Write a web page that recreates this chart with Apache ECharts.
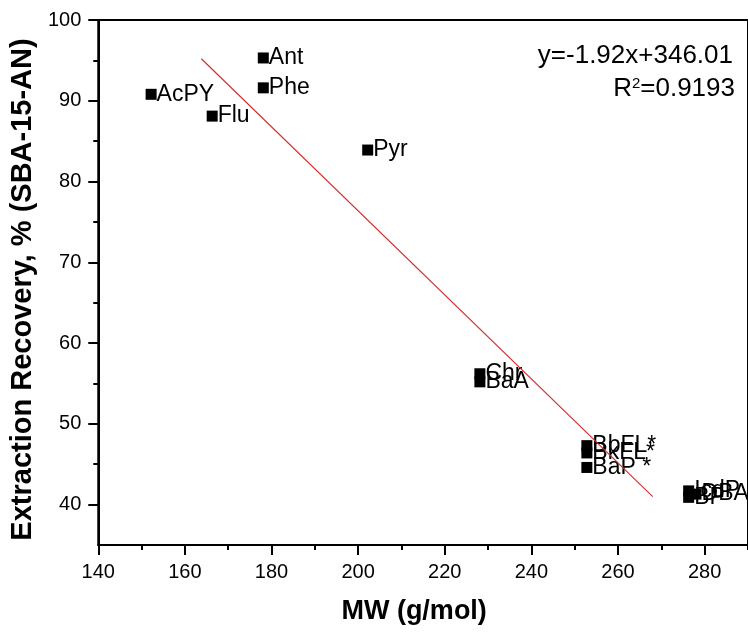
<!DOCTYPE html>
<html>
<head>
<meta charset="utf-8">
<script src="https://cdn.jsdelivr.net/npm/echarts@6/dist/echarts.min.js"></script>
<style>html,body{margin:0;padding:0;background:#fff;}#main{width:748px;height:632px;}</style>
</head>
<body>
<div id="main"></div>
<script>
// Data
const compounds = ['AcPY','Flu','Ant','Phe','Pyr','Chr','BaA','BbFL*','BkFL*','BaP *','IcdP','DBA','BP'];
const mw        = [152.2, 166.3, 178.1, 178.1, 202.2, 228.1, 228.1, 252.8, 252.8, 252.8, 276.3, 278.0, 276.3];
const recovery  = [90.8, 88.1, 95.3, 91.6, 83.9, 56.2, 55.2, 47.3, 46.4, 44.6, 41.7, 41.3, 40.9];
// Fit line end points as drawn
const fitX = [163.8, 268.0];
const fitY = [95.2, 41.0];
// Ticks
const xTicks = [140,160,180,200,220,240,260,280];
const xMinorTicks = [150,170,190,210,230,250,270,290];
const yTicks = [40,50,60,70,80,90,100];
const yMinorTicks = [45,55,65,75,85,95];
const eqText = 'y=-1.92x+346.01';
const r2Text = '0.9193';

const FONT = '"Liberation Sans", Arial, sans-serif';
const chart = echarts.init(document.getElementById('main'), null, {renderer:'canvas'});

const pts = compounds.map((n,i)=>({name:n, value:[mw[i], recovery[i]]}));
const fit = fitX.map((x,i)=>[x, fitY[i]]);

const common = {min:140, max:290};
const yCommon = {min:35, max:100};

chart.setOption({
  animation:false,
  backgroundColor:'#fff',
  grid:{left:98, top:20, right:-3, bottom:87, show:true, borderColor:'#000', borderWidth:2, backgroundColor:'transparent'},
  xAxis:[
    Object.assign({type:'value', position:'bottom', name:'MW (g/mol)', nameLocation:'middle', nameGap:53,
      nameTextStyle:{fontFamily:FONT, fontSize:27, fontWeight:'bold', color:'#000', padding:[0,18,0,0]},
      axisLine:{show:true, lineStyle:{color:'#000', width:2}},
      axisTick:{show:true, inside:false, length:10, lineStyle:{color:'#000', width:2}, customValues:xTicks},
      axisLabel:{show:true, margin:17, fontFamily:FONT, fontSize:20, color:'#000', customValues:xTicks},
      splitLine:{show:false}}, common),
    Object.assign({type:'value', position:'bottom', gridIndex:0,
      axisLine:{show:false},
      axisTick:{show:true, inside:false, length:5, lineStyle:{color:'#000', width:2}, customValues:xMinorTicks},
      axisLabel:{show:false}, splitLine:{show:false}}, common)
  ],
  yAxis:[
    Object.assign({type:'value', position:'left', name:'Extraction Recovery, % (SBA-15-AN)', nameLocation:'middle', nameGap:59,
      nameTextStyle:{fontFamily:FONT, fontSize:29, fontWeight:'bold', color:'#000', padding:[0,14,0,0]},
      axisLine:{show:true, lineStyle:{color:'#000', width:2}},
      axisTick:{show:true, inside:false, length:10, lineStyle:{color:'#000', width:2}, customValues:yTicks},
      axisLabel:{show:true, margin:17, fontFamily:FONT, fontSize:20, color:'#000', customValues:yTicks},
      splitLine:{show:false}}, yCommon),
    Object.assign({type:'value', position:'left', gridIndex:0,
      axisLine:{show:false},
      axisTick:{show:true, inside:false, length:5, lineStyle:{color:'#000', width:2}, customValues:yMinorTicks},
      axisLabel:{show:false}, splitLine:{show:false}}, yCommon)
  ],
  series:[
    {type:'line', data:fit, symbol:'none', lineStyle:{color:'#d42a2a', width:1.1}, xAxisIndex:0, yAxisIndex:0, z:3, silent:true},
    {type:'scatter', data:pts, symbol:'rect', symbolSize:[11,11], itemStyle:{color:'#000', opacity:1}, xAxisIndex:0, yAxisIndex:0, z:2,
      label:{show:true, position:'right', distance:0, formatter:p=>p.name, fontFamily:FONT, fontSize:23, color:'#000', opacity:1}}
  ],
  graphic:[
    {type:'text', right:15, top:43, style:{text:eqText, font:'26px '+FONT, fill:'#000', textAlign:'right'}},
    {type:'text', right:13, top:76, style:{text:'R{sup|2}=' + r2Text, font:'26px '+FONT, fill:'#000', textAlign:'right',
      rich:{sup:{fontSize:15, fontFamily:FONT, verticalAlign:'top', padding:[0,0,10,0]}}}}
  ]
});
</script>
</body>
</html>
